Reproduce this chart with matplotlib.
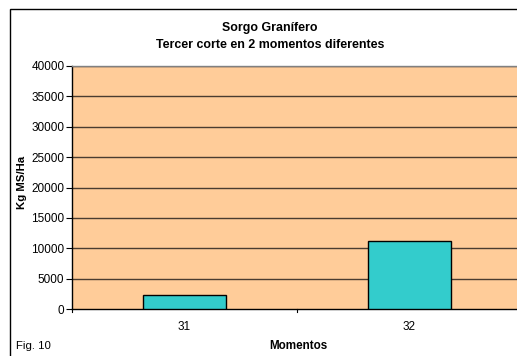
import matplotlib
matplotlib.use("Agg")
import matplotlib.pyplot as plt
from matplotlib.patches import Rectangle

plt.rcParams['font.family'] = ['Liberation Sans', 'DejaVu Sans']

categories = ["31", "32"]
values = [2250, 11200]
y_ticks = [0, 5000, 10000, 15000, 20000, 25000, 30000, 35000, 40000]

W, H = 517, 356
fig = plt.figure(figsize=(W / 100, H / 100), dpi=100)

# outer chart border
fig.patches.append(Rectangle((10 / W, -0.1), 1.2, 1 - 9 / H + 0.1,
                             transform=fig.transFigure, fill=False,
                             edgecolor='black', linewidth=1.0, clip_on=False))

ax = fig.add_axes([72 / W, 1 - 309 / H, 450 / W, (309 - 66) / H])
ax.set_facecolor('#FFCC99')

x = range(len(categories))
ax.bar(x, values, width=0.37, color='#33CCCC', edgecolor='black', linewidth=1.0, zorder=3)

ax.set_xlim(-0.5, len(categories) - 0.5)
ax.set_ylim(0, 40000)
ax.set_yticks(y_ticks)
ax.set_yticklabels([str(v) for v in y_ticks], fontsize=8.5)
ax.set_xticks(list(x))
ax.set_xticklabels(categories, fontsize=8.5)
ax.tick_params(axis='x', length=0, pad=9)
ax.tick_params(axis='y', length=4, width=0.8, direction='out', pad=1.5)

# category separator ticks
for b in [-0.5, 0.5, 1.5]:
    ax.plot([b, b], [0, -0.014 * 40000], color='black', linewidth=0.8,
            clip_on=False, zorder=4)

for v in y_ticks[1:]:
    ax.axhline(v, color='#4a3c30', linewidth=1.0, zorder=1)

for side in ['top', 'right']:
    ax.spines[side].set_color('#808080')
ax.spines['left'].set_color('black')
ax.spines['bottom'].set_color('black')
for s in ax.spines.values():
    s.set_linewidth(1.0)

fig.text(270 / W, 1 - 28 / H, "Sorgo Granífero", ha='center', va='center',
         fontsize=8.9, fontweight='bold')
fig.text(270 / W, 1 - 45 / H, "Tercer corte en 2 momentos diferentes", ha='center',
         va='center', fontsize=8.9, fontweight='bold')
fig.text(22 / W, 1 - 182 / H, "Kg MS/Ha", ha='center', va='center', rotation=90,
         fontsize=8.2, fontweight='bold')
fig.text(298 / W, 1 - 346 / H, "Momentos", ha='center', va='center',
         fontsize=8.4, fontweight='bold')
fig.text(16 / W, 1 - 346 / H, "Fig. 10", ha='left', va='center', fontsize=8.2)

fig.savefig("out.png", dpi=100)
